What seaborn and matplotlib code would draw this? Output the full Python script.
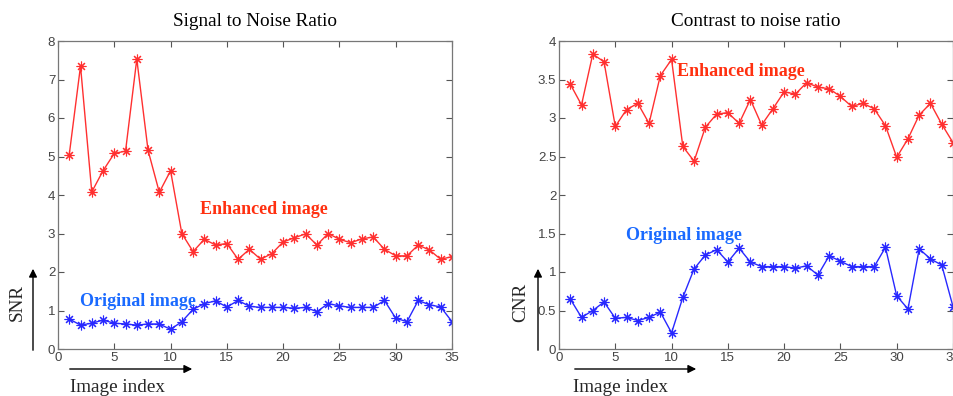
import numpy as np
import pandas as pd
import matplotlib
matplotlib.use("Agg")
import matplotlib.pyplot as plt
import seaborn as sns

image_index = list(range(1, 36))

snr_enhanced = [5.05, 7.35, 4.08, 4.63, 5.08, 5.14, 7.53, 5.16, 4.07, 4.63,
                3.00, 2.53, 2.85, 2.70, 2.74, 2.33, 2.59, 2.33, 2.48, 2.78,
                2.89, 2.99, 2.70, 3.00, 2.85, 2.76, 2.86, 2.91, 2.59, 2.42,
                2.42, 2.70, 2.57, 2.33, 2.40]
snr_original = [0.78, 0.62, 0.67, 0.75, 0.67, 0.65, 0.62, 0.65, 0.65, 0.51,
                0.71, 1.03, 1.18, 1.25, 1.09, 1.26, 1.11, 1.08, 1.08, 1.08,
                1.06, 1.08, 0.97, 1.18, 1.12, 1.08, 1.08, 1.08, 1.26, 0.80,
                0.71, 1.26, 1.15, 1.09, 0.71]
cnr_enhanced = [3.44, 3.17, 3.83, 3.73, 2.89, 3.11, 3.19, 2.93, 3.55, 3.76,
                2.63, 2.44, 2.88, 3.05, 3.07, 2.93, 3.24, 2.91, 3.12, 3.34,
                3.31, 3.46, 3.40, 3.38, 3.28, 3.15, 3.19, 3.12, 2.90, 2.49,
                2.73, 3.04, 3.19, 2.92, 2.68]
cnr_original = [0.65, 0.41, 0.50, 0.61, 0.40, 0.41, 0.37, 0.41, 0.48, 0.21,
                0.67, 1.04, 1.22, 1.29, 1.13, 1.31, 1.13, 1.07, 1.07, 1.07,
                1.05, 1.08, 0.96, 1.21, 1.14, 1.07, 1.07, 1.07, 1.32, 0.69,
                0.52, 1.30, 1.17, 1.09, 0.55]

titles = ["Signal to Noise Ratio", "Contrast to noise ratio"]
ylabels = ["SNR", "CNR"]
xticks = [0, 5, 10, 15, 20, 25, 30, 35]
yticks_list = [[0, 1, 2, 3, 4, 5, 6, 7, 8], [0, 0.5, 1, 1.5, 2, 2.5, 3, 3.5, 4]]
ytick_labels = [["0", "1", "2", "3", "4", "5", "6", "7", "8"],
                ["0", "0.5", "1", "1.5", "2", "2.5", "3", "3.5", "4"]]
ylims = [(0, 8), (0, 4)]

sns.set_style("white")
plt.rcParams['font.family'] = ['Liberation Sans', 'DejaVu Sans']

W, H = 954, 396
fig = plt.figure(figsize=(9.54, 3.96), dpi=100)

red = "#ff3030"
blue = "#2828ff"

panels = [
    dict(left=58, data=(snr_enhanced, snr_original),
         enh_xy=(200, 209), orig_xy=(80, 301),
         yarrow_x=33, ylab_x=17, xarrow=(67, 195), ilabel_x=70),
    dict(left=559, data=(cnr_enhanced, cnr_original),
         enh_xy=(677, 71), orig_xy=(626, 235),
         yarrow_x=538, ylab_x=521, xarrow=(572, 699), ilabel_x=573),
]

def fx(px):
    return px / W

def fy(py):
    return 1 - py / H

for i, p in enumerate(panels):
    ax = fig.add_axes([fx(p["left"]), fy(349), 394 / W, (349 - 41) / H])
    enh, orig = p["data"]
    for vals, col in ((enh, red), (orig, blue)):
        sns.lineplot(x=image_index, y=vals, color=col,
                     marker=(8, 2, 0), markersize=7, markeredgewidth=0.8,
                     markeredgecolor=col, markerfacecolor=col,
                     linewidth=1.0, ax=ax, legend=False)
    ax.set_xlim(0, 35)
    ax.set_ylim(*ylims[i])
    ax.set_xticks(xticks)
    ax.set_xticklabels([str(t) for t in xticks])
    ax.set_yticks(yticks_list[i])
    ax.set_yticklabels(ytick_labels[i])
    ax.set_xlabel("")
    ax.set_ylabel("")
    ax.tick_params(direction="in", length=4, width=0.8, colors="#555555",
                   labelsize=9.5, top=True, right=True, bottom=True, left=True,
                   labelcolor="#444444", pad=2)
    for s in ax.spines.values():
        s.set_color("#777777")
        s.set_linewidth(0.9)
    ax.set_title(titles[i], family="Liberation Serif", fontsize=13.8,
                 pad=11, color="black")

    # annotations
    fig.text(fx(p["enh_xy"][0]), fy(p["enh_xy"][1]), "Enhanced image",
             family="Liberation Serif", weight="bold", fontsize=13,
             color="#ff3010", va="center", ha="left")
    fig.text(fx(p["orig_xy"][0]), fy(p["orig_xy"][1]), "Original image",
             family="Liberation Serif", weight="bold", fontsize=13,
             color="#1a6aff", va="center", ha="left")

    # y arrow
    fig.add_artist(matplotlib.patches.FancyArrowPatch(
        (fx(p["yarrow_x"]), fy(353)), (fx(p["yarrow_x"]), fy(266)),
        transform=fig.transFigure, arrowstyle="-|>", mutation_scale=12,
        color="black", linewidth=1.0))
    fig.text(fx(p["ylab_x"]), fy(302), ylabels[i], family="Liberation Serif",
             fontsize=13.8, rotation=90, ha="center", va="center")
    # x arrow
    fig.add_artist(matplotlib.patches.FancyArrowPatch(
        (fx(p["xarrow"][0]), fy(369)), (fx(p["xarrow"][1]), fy(369)),
        transform=fig.transFigure, arrowstyle="-|>", mutation_scale=12,
        color="black", linewidth=1.0))
    fig.text(fx(p["ilabel_x"]), fy(387), "Image index", family="Liberation Serif",
             fontsize=13.8, ha="left", va="center")

fig.savefig("out.png", dpi=100)
